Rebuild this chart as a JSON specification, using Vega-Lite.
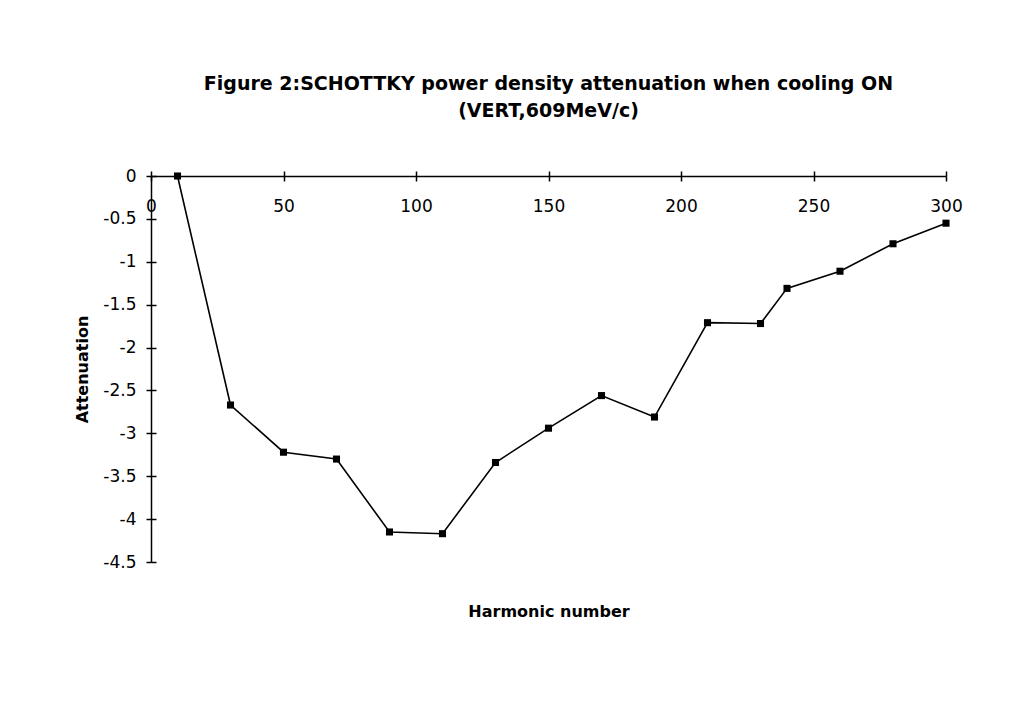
{
  "$schema": "https://vega.github.io/schema/vega-lite/v6.json",
  "autosize": "none",
  "width": 795,
  "height": 386,
  "padding": {"left": 151, "top": 176, "right": 87, "bottom": 149},
  "background": "white",
  "config": {
    "view": {"stroke": null},
    "font": "DejaVu Sans",
    "axis": {"grid": false, "domainColor": "black", "tickColor": "black", "labelColor": "black", "titleColor": "black", "domainWidth": 1.5, "tickWidth": 1.5, "labelFlush": false}
  },
  "title": {
    "text": ["Figure 2:SCHOTTKY power density attenuation when cooling ON", "(VERT,609MeV/c)"],
    "font": "DejaVu Sans",
    "fontSize": 19,
    "fontWeight": "bold",
    "color": "black",
    "anchor": "middle",
    "frame": "group",
    "lineHeight": 27,
    "offset": 46
  },
  "data": {
    "values": [
      {"harmonic": 10, "attenuation": 0},
      {"harmonic": 30, "attenuation": -2.67},
      {"harmonic": 50, "attenuation": -3.22},
      {"harmonic": 70, "attenuation": -3.30},
      {"harmonic": 90, "attenuation": -4.15},
      {"harmonic": 110, "attenuation": -4.17},
      {"harmonic": 130, "attenuation": -3.34},
      {"harmonic": 150, "attenuation": -2.94},
      {"harmonic": 170, "attenuation": -2.56},
      {"harmonic": 190, "attenuation": -2.81},
      {"harmonic": 210, "attenuation": -1.71},
      {"harmonic": 230, "attenuation": -1.72},
      {"harmonic": 240, "attenuation": -1.31},
      {"harmonic": 260, "attenuation": -1.11},
      {"harmonic": 280, "attenuation": -0.79},
      {"harmonic": 300, "attenuation": -0.55}
    ]
  },
  "resolve": {"axis": {"x": "independent", "y": "independent"}},
  "layer": [
    {
      "mark": {"type": "line", "color": "black", "strokeWidth": 1.6, "point": {"shape": "square", "filled": true, "color": "black", "size": 50, "opacity": 1}},
      "encoding": {
        "x": {
          "field": "harmonic", "type": "quantitative",
          "scale": {"domain": [0, 300], "nice": false, "zero": false},
          "axis": {
            "orient": "bottom", "offset": -386, "values": [0, 50, 100, 150, 200, 250, 300],
            "tickSize": 5, "labelPadding": 17, "labelFontSize": 17, "labelFont": "DejaVu Sans", "labelFlush": false,
            "title": "Harmonic number", "titleFontSize": 16, "titleFontWeight": "bold", "titleFont": "DejaVu Sans",
            "titleY": 427, "titleBaseline": "top"
          }
        },
        "y": {
          "field": "attenuation", "type": "quantitative",
          "scale": {"domain": [-4.5, 0], "nice": false, "zero": false},
          "axis": {
            "orient": "left", "values": [0, -0.5, -1, -1.5, -2, -2.5, -3, -3.5, -4, -4.5],
            "labelExpr": "'' + datum.value", "labelFlush": false,
            "tickSize": 5, "labelPadding": 10, "labelFontSize": 17, "labelFont": "DejaVu Sans",
            "title": "Attenuation", "titleFontSize": 16, "titleFontWeight": "bold", "titleFont": "DejaVu Sans",
            "titlePadding": 12
          }
        }
      }
    },
    {
      "mark": {"type": "point", "opacity": 0},
      "encoding": {
        "x": {
          "field": "harmonic", "type": "quantitative",
          "scale": {"domain": [0, 300], "nice": false, "zero": false},
          "axis": {"orient": "top", "values": [0, 50, 100, 150, 200, 250, 300], "tickSize": 5, "labels": false, "domain": false, "title": null}
        },
        "y": {
          "field": "attenuation", "type": "quantitative",
          "scale": {"domain": [-4.5, 0], "nice": false, "zero": false},
          "axis": {"orient": "right", "offset": -795, "values": [0, -0.5, -1, -1.5, -2, -2.5, -3, -3.5, -4, -4.5], "tickSize": 5, "labels": false, "domain": false, "title": null}
        }
      }
    }
  ]
}
